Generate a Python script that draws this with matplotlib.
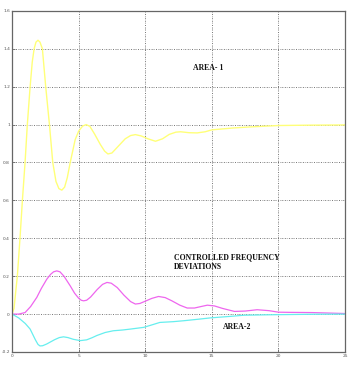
import matplotlib.pyplot as plt
import numpy as np

# values
t1 = [0, 0.15, 0.4, 0.6, 0.78, 0.98, 1.15, 1.36, 1.52, 1.66, 1.8, 1.95, 2.1, 2.28, 2.53, 2.81, 3.06, 3.3, 3.52, 3.74, 3.95,
      4.15, 4.37, 4.74, 5.0, 5.3, 5.57, 5.85, 6.2, 6.63, 6.95, 7.2, 7.5, 7.9, 8.5, 8.9, 9.26, 9.7, 10.2, 10.77, 11.3, 11.8,
      12.3, 12.65, 13.3, 13.9, 14.5, 15.0, 16.6, 18.0, 20.0, 22.5, 25.0]
area1 = [0, 0.03, 0.2, 0.4, 0.6, 0.8, 1.0, 1.2, 1.33, 1.4, 1.435, 1.445, 1.435, 1.4, 1.2, 1.0, 0.8, 0.7, 0.662, 0.654, 0.67,
         0.72, 0.8, 0.92, 0.965, 0.992, 1.0, 0.99, 0.95, 0.895, 0.86, 0.845, 0.85, 0.88, 0.925, 0.942, 0.947, 0.94, 0.925, 0.912, 0.925, 0.948,
         0.96, 0.962, 0.957, 0.956, 0.962, 0.972, 0.982, 0.988, 0.995, 0.997, 0.998]

t2 = [0, 0.5, 0.98, 1.4, 1.86, 2.2, 2.61, 2.9, 3.12, 3.36, 3.6, 3.9, 4.37, 4.7, 5.0, 5.2, 5.37, 5.6, 5.9, 6.4, 6.8, 7.13, 7.45, 7.9, 8.4, 8.9, 9.26,
      9.6, 10.0, 10.5, 11.0, 11.5, 12.0, 12.6, 13.15, 13.7, 14.2, 14.66, 15.2, 15.8, 16.7, 17.5, 18.4, 19.3, 20.0, 21.0, 22.5, 24.0, 25.0]
ctrl = [0, 0.0, 0.008, 0.04, 0.088, 0.135, 0.184, 0.21, 0.223, 0.228, 0.223, 0.2, 0.149, 0.11, 0.084, 0.073, 0.07, 0.073, 0.09, 0.13, 0.157, 0.167, 0.163, 0.14, 0.1, 0.066, 0.053,
        0.056, 0.068, 0.083, 0.093, 0.087, 0.07, 0.047, 0.032, 0.032, 0.04, 0.047, 0.043, 0.03, 0.014, 0.016, 0.023, 0.018, 0.01, 0.009, 0.008, 0.005, 0.003]

t3 = [0, 0.5, 1.0, 1.36, 1.75, 1.95, 2.1, 2.3, 2.6, 3.2, 3.55, 3.87, 4.2, 4.6, 5.12, 5.6, 6.0, 6.37, 7.0, 7.6, 8.3, 8.9, 9.89, 10.5, 11.1, 12.1, 12.9, 14.0,
      14.9, 16.4, 17.4, 19.0, 20.0, 22.5, 25.0]
area2 = [0, -0.02, -0.05, -0.079, -0.135, -0.16, -0.168, -0.167, -0.158, -0.135, -0.124, -0.12, -0.124, -0.133, -0.14, -0.136, -0.125, -0.113, -0.097, -0.088, -0.084, -0.079, -0.07, -0.057, -0.044, -0.04, -0.035, -0.027,
         -0.02, -0.012, -0.006, -0.004, -0.003, -0.001, 0.0]

xticks = [0, 5, 10, 15, 20, 25]
yticks = [-0.2, 0, 0.2, 0.4, 0.6, 0.8, 1, 1.2, 1.4, 1.6]
ylabels = ['-0.2', '0', '0.2', '0.4', '0.6', '0.8', '1', '1.2', '1.4', '1.6']

fig = plt.figure(figsize=(3.48, 3.68), dpi=100)
ax = fig.add_axes([0.0345, 0.0435, 0.957, 0.927])

ax.plot(t1, area1, color='#ffff78', lw=1.0)
ax.plot(t2, ctrl, color='#ee66ee', lw=0.9)
ax.plot(t3, area2, color='#66eeee', lw=0.9)

ax.set_xlim(0, 25)
ax.set_ylim(-0.2, 1.6)
ax.set_xticks(xticks)
ax.set_yticks(yticks)
ax.set_yticklabels(ylabels)
ax.tick_params(labelsize=3.2, colors='#555555', length=2, width=0.5, direction='in', pad=1.5)
ax.grid(True, color='#222222', linestyle=(0, (1.0, 1.6, 0.5, 1.6)), linewidth=0.55)
for s in ax.spines.values():
    s.set_color('#666666')
    s.set_linewidth(0.9)

font = dict(family='Liberation Serif', weight='bold', fontsize=5.6, color='#111111')
ax.text(13.6, 1.3, 'AREA- 1', ha='left', va='center', **font)
ax.text(12.15, 0.274, 'CONTROLLED FREQUENCY\nDEVIATIONS', ha='left', va='center', linespacing=1.3, **font)
ax.text(15.8, -0.068, 'AREA-2', ha='left', va='center', **font)

plt.savefig('out.png', dpi=100)
